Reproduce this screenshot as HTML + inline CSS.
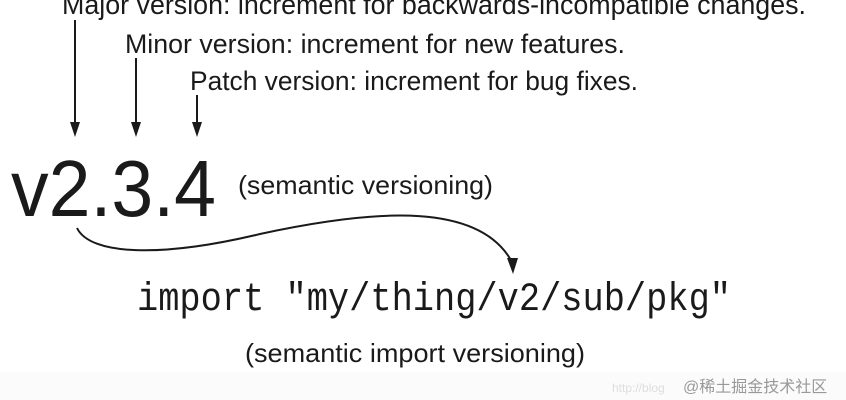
<!DOCTYPE html>
<html><head><meta charset="utf-8"><style>
html,body{margin:0;padding:0;background:#fff;}
svg{display:block;}
</style></head><body>
<svg width="846" height="400" viewBox="0 0 846 400" xmlns="http://www.w3.org/2000/svg">
<rect x="0" y="0" width="846" height="400" fill="#fff"/>
<rect x="0" y="372" width="846" height="28" fill="#fbfbfb"/>
<g font-family="Liberation Sans, sans-serif" fill="#1a1a1a">
<text x="62" y="14" font-size="28" textLength="744" lengthAdjust="spacingAndGlyphs">Major version: increment for backwards-incompatible changes.</text>
<text x="125" y="53" font-size="27" textLength="500" lengthAdjust="spacingAndGlyphs">Minor version: increment for new features.</text>
<text x="190" y="90" font-size="27" textLength="448" lengthAdjust="spacingAndGlyphs">Patch version: increment for bug fixes.</text>
<text x="11" y="216" font-size="80" textLength="205" lengthAdjust="spacingAndGlyphs">v2.3.4</text>
<text x="238" y="194" font-size="26" textLength="255" lengthAdjust="spacingAndGlyphs">(semantic versioning)</text>
<text x="245" y="362" font-size="26" textLength="340" lengthAdjust="spacingAndGlyphs">(semantic import versioning)</text>
</g>
<text x="137" y="310" font-family="Liberation Mono, monospace" font-size="40" fill="#1a1a1a" textLength="594" lengthAdjust="spacingAndGlyphs">import "my/thing/v2/sub/pkg"</text>
<g stroke="#1a1a1a" stroke-width="2" fill="none">
<line x1="75" y1="20" x2="75" y2="128"/>
<line x1="136" y1="58" x2="136" y2="128"/>
<line x1="197" y1="95" x2="197" y2="128"/>
<path d="M77 228 C 90 255, 160 258, 260 234 C 380 208, 480 203, 512 262"/>
</g>
<g fill="#1a1a1a">
<polygon points="70,122 80,122 75,137"/>
<polygon points="131,122 141,122 136,137"/>
<polygon points="192,122 202,122 197,137"/>
<polygon points="507,258 518,258 513,274"/>
</g>
<text x="612" y="392" font-family="Liberation Sans, sans-serif" font-size="12" fill="#dddddd">http://blog</text>
<text x="683" y="392" font-family="Liberation Sans, 'Noto Sans CJK SC', sans-serif" font-size="16" fill="#999">@稀土掘金技术社区</text>
</svg>
</body></html>
